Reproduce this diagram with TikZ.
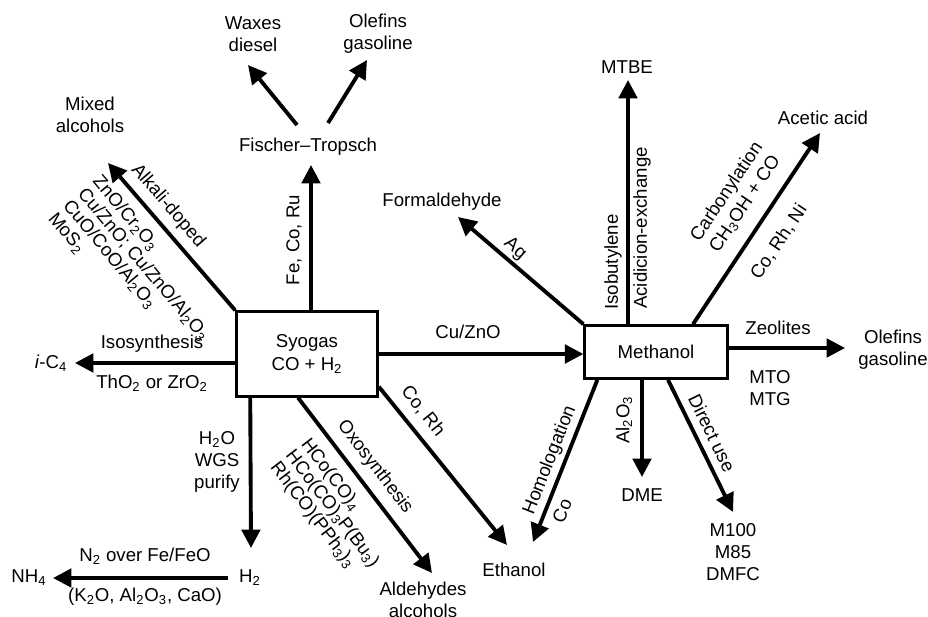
\documentclass[tikz,border=0pt]{standalone}
\usepackage{fontspec}
\setmainfont{Liberation Sans}
\usetikzlibrary{arrows.meta,calc}
\newcommand{\chsub}[1]{\textsubscript{#1}}
\begin{document}
\begin{tikzpicture}[x=0.02cm,y=-0.02cm,
  txt/.style={font=\fontsize{10.6}{12.5}\selectfont, inner sep=1pt, align=center},
  cat/.style={font=\fontsize{10.6}{11}\selectfont, inner sep=1pt, align=left},
  box/.style={draw, line width=1.7pt, inner sep=0pt, align=center, font=\fontsize{10.6}{13.5}\selectfont},
  arr/.style={line width=2.2pt, -{Triangle[length=10.5pt,width=10.5pt]}}]
  \useasboundingbox (0,0) rectangle (928,617);
  % the two feeds
  \node[box, minimum width=80pt, minimum height=48pt] (syn) at (307,354) {Syogas\\CO + H\chsub{2}};
  \node[box, minimum width=81pt, minimum height=30pt] (meth) at (656,352) {Methanol};
  % products
  \node[txt] (mixed) at (90,115) {Mixed\\alcohols};
  \node[txt] (ft) at (308,147) {Fischer--Tropsch};
  \node[txt] (waxes) at (253,34) {Waxes\\diesel};
  \node[txt] (olefA) at (378,34) {Olefins\\gasoline};
  \node[txt] (ic4) at (51,363) {\textit{i}-C\chsub{4}};
  \node[txt] (h2) at (250,578) {H\chsub{2}};
  \node[txt] (nh4) at (29,578) {NH\chsub{4}};
  \node[txt] (ald) at (423,600) {Aldehydes\\alcohols};
  \node[txt] (eth) at (514,570) {Ethanol};
  \node[txt] (form) at (442,202) {Formaldehyde};
  \node[txt] (mtbe) at (627,67) {MTBE};
  \node[txt] (acetic) at (823,118) {Acetic acid};
  \node[txt] (olefB) at (893,350) {Olefins\\gasoline};
  \node[txt] (dme) at (642,495) {DME};
  \node[txt] (mfuel) at (733,552) {M100\\M85\\DMFC};
  % routes from syngas
  \draw[arr] (syn.north west) -- ($(mixed)+(18,48)$);
  \draw[arr] ($(syn.north)+(4,0)$) -- ($(ft)+(3,18)$);
  \draw[arr] ($(ft)+(-11,-22)$) -- ($(waxes)+(-5,31)$);
  \draw[arr] ($(ft)+(20,-24)$) -- ($(olefA)+(-11,26)$);
  \draw[arr] ($(syn.west)+(0,9)$) -- ($(ic4)+(24,0)$);
  \draw[arr] ($(syn.south west)+(15,0)$) -- ($(h2)+(1,-30)$);
  \draw[arr] ($(h2)+(-22,0)$) -- ($(nh4)+(24,0)$);
  \draw[arr] ($(syn.south)+(-9,0)$) -- ($(ald)+(9,-27)$);
  \draw[arr] ($(syn.south east)+(0,-11)$) -- ($(eth)+(-7,-25)$);
  \draw[arr] (syn.east) -- (syn.east -| meth.west);
  % routes from methanol
  \draw[arr] (meth.north west) -- ($(form)+(16,15)$);
  \draw[arr] ($(meth.north)+(-28,0)$) -- ($(mtbe)+(1,13)$);
  \draw[arr] ($(meth.north)+(37,0)$) -- ($(acetic)+(-3,15)$);
  \draw[arr] ($(meth.east)+(0,-4)$) -- ($(olefB)+(-48,-2)$);
  \draw[arr] ($(meth.south west)+(14,0)$) -- ($(eth)+(19,-28)$);
  \draw[arr] ($(meth.south)+(-14,0)$) -- ($(dme)+(0,-18)$);
  \draw[arr] ($(meth.south)+(12,0)$) -- ($(mfuel)+(0,-40)$);
  % catalysts and conditions
  \node[txt, rotate=-49.2] (alk) at (168,206) {Alkali-doped};
  \node[cat, rotate=-50] (mixcat) at (136,271) {ZnO/Cr\chsub{2}O\chsub{3}\\Cu/ZnO; Cu/ZnO/Al\chsub{2}O\chsub{3}\\CuO/CoO/Al\chsub{2}O\chsub{3}\\MoS\chsub{2}};
  \node[txt, rotate=90] (fecoru) at (294,240) {Fe, Co, Ru};
  \node[txt] (iso) at (152,344) {Isosynthesis};
  \node[txt] (tho) at (152,383) {ThO\chsub{2} or ZrO\chsub{2}};
  \node[txt] (wgs) at (217,462) {H\chsub{2}O\\WGS\\purify};
  \node[txt] (nfe) at (145,556) {N\chsub{2} over Fe/FeO};
  \node[txt] (kao) at (145,597) {(K\chsub{2}O, Al\chsub{2}O\chsub{3}, CaO)};
  \node[txt, rotate=-52.6] (oxo) at (375,467) {Oxosynthesis};
  \node[cat, rotate=-52.6] (oxocat) at (332,509) {HCo(CO)\chsub{4}\\HCo(CO)\chsub{3}P(Bu\chsub{3})\\Rh(CO)(PPh\chsub{3})\chsub{3}};
  \node[txt, rotate=-51.4] (corh) at (423,411) {Co, Rh};
  \node[txt] (cuzn) at (468,332) {Cu/ZnO};
  \node[txt, rotate=-40.6] (ag) at (515,249) {Ag};
  \node[txt, rotate=90] (isob) at (613,262) {Isobutylene};
  \node[txt, rotate=90] (acid) at (642,228) {Acidicion-exchange};
  \node[txt, rotate=56.2] (carb) at (736,198) {Carbonylation\\CH\chsub{3}OH + CO};
  \node[txt, rotate=56.2] (corhni) at (779,242) {Co, Rh, Ni};
  \node[txt] (zeo) at (778,328) {Zeolites};
  \node[txt] (mto) at (770,388) {MTO\\MTG};
  \node[txt, rotate=68.4] (homo) at (550,460) {Homologation};
  \node[txt, rotate=68.4] (co) at (562,511) {Co};
  \node[txt, rotate=90] (alo) at (624,420) {Al\chsub{2}O\chsub{3}};
  \node[txt, rotate=-64.1] (direct) at (712,433) {Direct use};
\end{tikzpicture}
\end{document}
